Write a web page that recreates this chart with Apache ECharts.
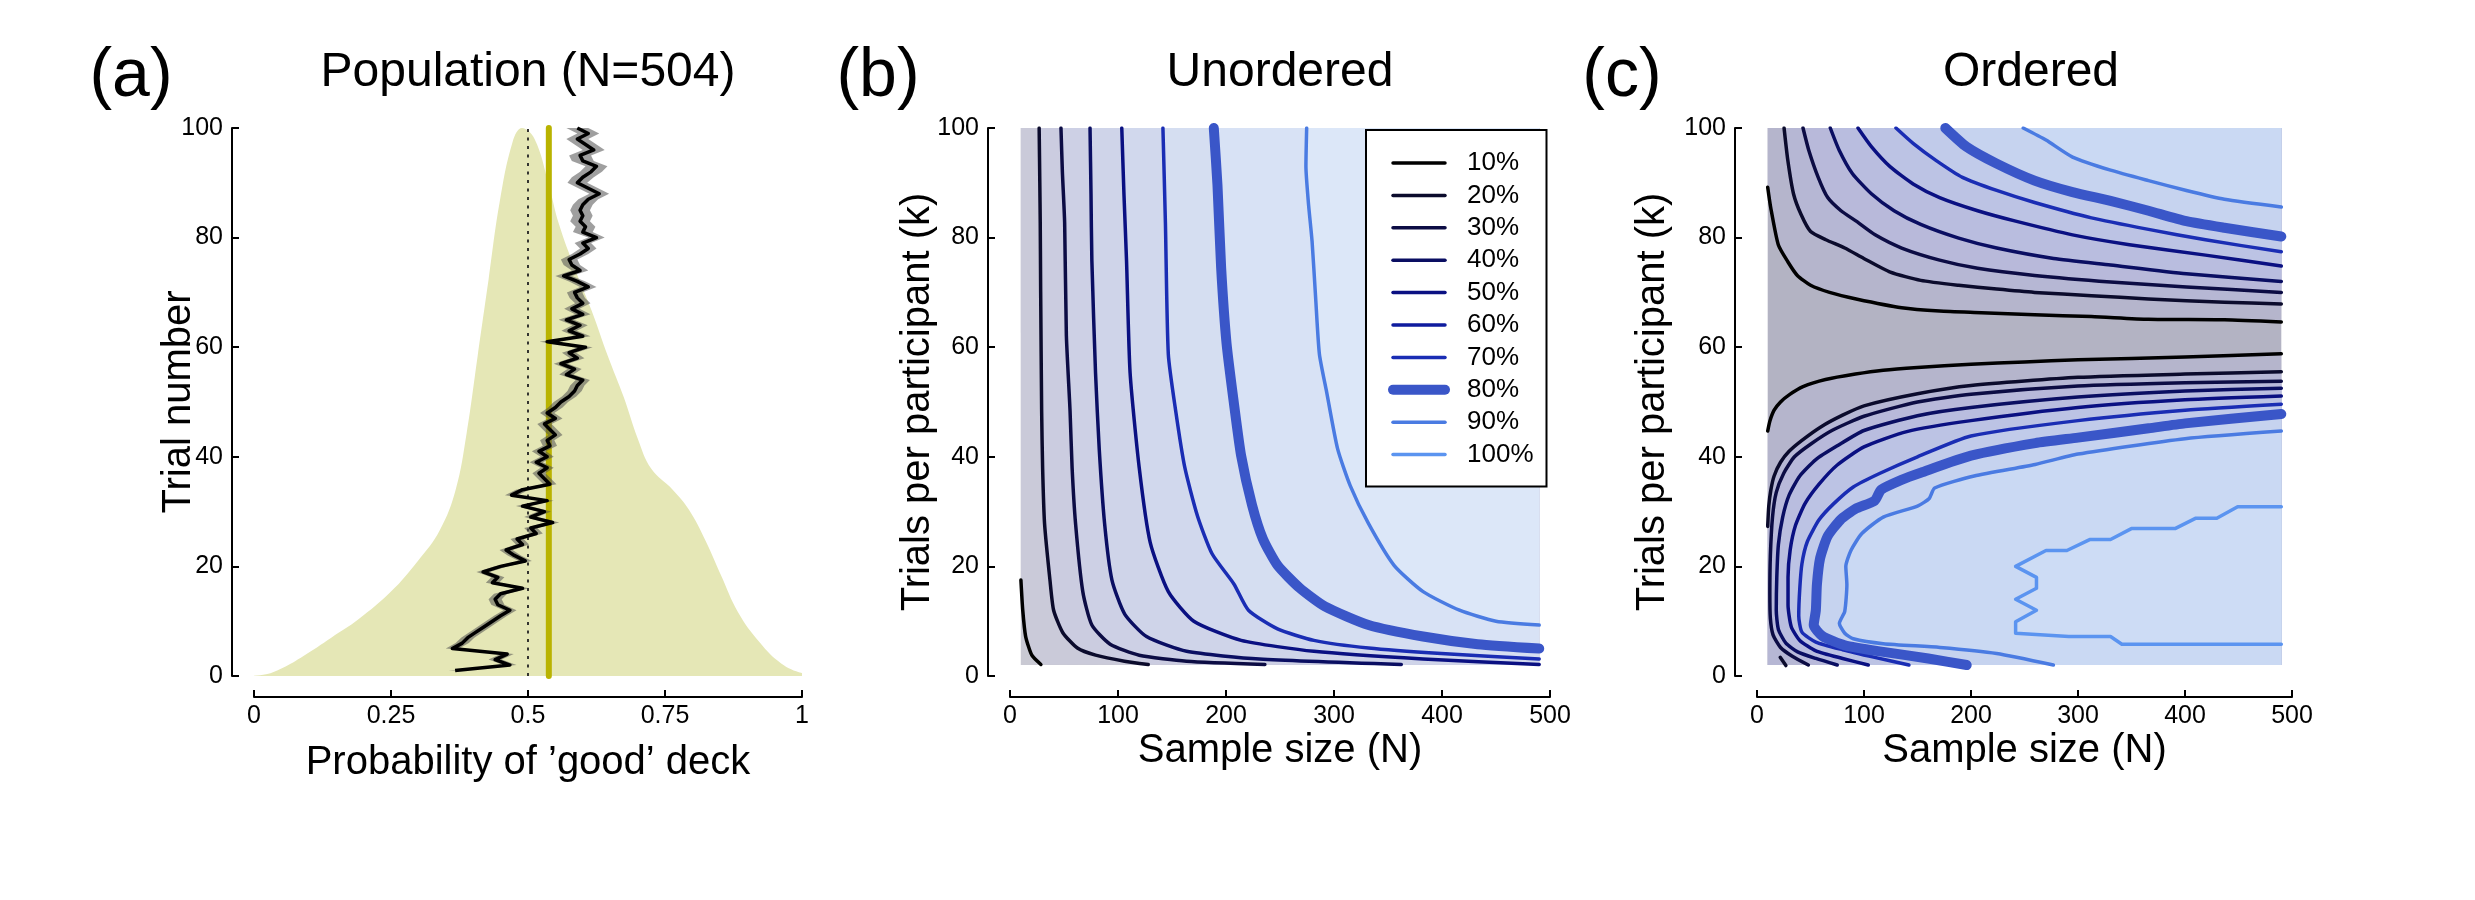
<!DOCTYPE html>
<html>
<head>
<meta charset="utf-8">
<script src="https://cdn.jsdelivr.net/npm/echarts@6/dist/echarts.min.js"></script>
<style>
  html, body { margin: 0; padding: 0; background: #fff; }
  #chart { width: 2475px; height: 900px; }
</style>
</head>
<body>
<div id="chart"></div>
<script>
// ---- panel (a): population ----
const densityP = [-0.013, 0.022, 0.051, 0.091, 0.141, 0.19, 0.25, 0.299, 0.339, 0.368, 0.388, 0.408, 0.428, 0.448, 0.472, 0.489, 0.512, 0.537, 0.556, 0.586, 0.616, 0.646, 0.675, 0.7, 0.725, 0.764, 0.794, 0.824, 0.853, 0.883, 0.923, 0.962, 1.002, 1.046];
const densityH = [0, 0.3, 1.4, 3.7, 7, 10.3, 15.4, 21, 26.6, 34, 44.3, 58.3, 72.3, 86.3, 97.5, 100, 98, 90, 82.6, 74.2, 66.7, 58.3, 50.8, 43.4, 37.8, 34, 30.3, 24.7, 18.2, 11.7, 6.1, 2.3, 0.5, 0];

// mean probability of choosing the good deck, trials 1..100
const trialMeanP = [
  0.367, 0.467, 0.44, 0.462, 0.362, 0.38, 0.39, 0.405, 0.42, 0.435,
  0.45, 0.467, 0.445, 0.44, 0.45, 0.49, 0.435, 0.445, 0.418, 0.45,
  0.495, 0.475, 0.46, 0.49, 0.48, 0.515, 0.505, 0.545, 0.505, 0.53,
  0.49, 0.535, 0.47, 0.49, 0.54, 0.53, 0.52, 0.535, 0.515, 0.535,
  0.52, 0.54, 0.535, 0.55, 0.54, 0.53, 0.55, 0.535, 0.55, 0.56,
  0.575, 0.585, 0.59, 0.6, 0.57, 0.585, 0.56, 0.59, 0.575, 0.605,
  0.535, 0.6, 0.575, 0.595, 0.57, 0.6, 0.58, 0.6, 0.59, 0.585,
  0.61, 0.59, 0.565, 0.595, 0.58, 0.575, 0.595, 0.61, 0.6, 0.625,
  0.6, 0.605, 0.595, 0.6, 0.595, 0.6, 0.61, 0.63, 0.61, 0.59,
  0.6, 0.615, 0.625, 0.6, 0.595, 0.62, 0.605, 0.59, 0.61, 0.59
];
// half width of the grey band, one value per block of 10 trials
const bandHalfWidth = [0.012, 0.012, 0.012, 0.012, 0.013, 0.013, 0.014, 0.015, 0.018, 0.02];
const chanceP = 0.5;
const populationMeanP = 0.538;

// ---- contour levels ----
const levels = ['10%', '20%', '30%', '40%', '50%', '60%', '70%', '80%', '90%', '100%'];
const nRange = [10, 490];
const kRange = [2, 100];

// ---- panel (b): unordered, [N, k] points along each contour ----
const unordered10 = [[10.1, 17.5], [11.8, 12], [14.5, 7.2], [20.2, 3.8], [28.6, 2.1]];
const unordered20 = [[27, 100], [27.6, 90], [28, 82.7], [28.4, 70], [29.3, 48.4], [30.2, 38], [32, 27.8], [37, 17.5], [40.4, 12], [48.9, 7.9], [62.4, 5.1], [79.2, 3.8], [106, 2.7], [128, 2.1]];
const unordered30 = [[47.2, 100], [48.5, 92], [50.6, 82.7], [52.2, 62.1], [55.6, 48.4], [57.5, 38], [60.7, 27.8], [67.4, 15.4], [75.8, 9.3], [92.7, 5.8], [119.6, 3.8], [163.5, 2.7], [236, 2.1]];
const unordered40 = [[74.1, 100], [75, 88], [75.8, 75.8], [79.2, 55.3], [82.6, 41.5], [87.6, 27.8], [94.4, 17.5], [106.2, 11.3], [126.4, 7.2], [163.5, 4.5], [230.9, 3.1], [362.3, 2.1]];
const unordered50 = [[103.5, 100], [105.5, 88], [107.9, 75.8], [111.2, 55.3], [119.6, 38.1], [129.8, 24.4], [146.6, 15.4], [170.2, 10], [214, 6.5], [281.4, 4.5], [382.5, 3.1], [490, 2.1]];
const unordered70 = [[141.6, 100], [143.9, 82.7], [146.6, 58.7], [153.4, 48.4], [161.8, 38.1], [173.6, 29.2], [187.1, 22.3], [207.3, 16.8], [220.8, 12], [247.7, 8.6], [281.4, 6.5], [332, 5.1], [399.4, 4.1], [490, 3.1]];
const unordered80 = [[188.7, 100], [192.1, 89.6], [195.5, 74.5], [200.5, 60.7], [207.3, 49.8], [214, 40.2], [224.1, 31.2], [234.2, 25], [247.7, 20.2], [268, 16.1], [291.5, 12.7], [332, 9.3], [382.5, 7.2], [433, 5.8], [490, 5]];
const unordered90 = [[274.7, 100], [274, 93], [276.4, 86.1], [279.7, 79.3], [283, 69], [286.5, 58.7], [293.2, 51.8], [303.3, 41.5], [315.1, 34.7], [332, 27.8], [355.6, 20.2], [382.5, 15.4], [416.2, 12], [450, 10], [490, 9.3]];

// ---- panel (c): ordered, upper and lower branches ----
const orderedUp10 = [[10, 89.2], [12.8, 85.5], [19.9, 78.7], [28.8, 75.6], [37.7, 73.1], [50.1, 71.3], [67.8, 70], [92.7, 68.8], [135.2, 67.2], [170.7, 66.6], [209.7, 66.3], [259.4, 65.9], [312.6, 65.6], [365.9, 65.1], [436.8, 65], [490, 64.6]];
const orderedUp20 = [[25.3, 100], [28.8, 94.1], [34.1, 88], [41.2, 84.2], [50.1, 81.1], [64.3, 79.6], [82, 78.1], [99.8, 76.2], [124.6, 73.7], [153, 72.2], [188.5, 71.3], [224, 70.6], [259.4, 70], [312.6, 69.4], [365.9, 68.8], [436.8, 68.2], [490, 67.9]];
const orderedUp30 = [[43, 100], [48.3, 96], [57.2, 91], [66.1, 87.3], [78.5, 84.9], [92.7, 83], [110.4, 80.5], [135.2, 78.1], [170.7, 75.9], [206.2, 74.4], [259.4, 73.1], [330.4, 71.9], [401.3, 71], [490, 70]];
const orderedUp40 = [[68.5, 100], [76.7, 96], [89.1, 91.7], [106.9, 88], [128.1, 84.9], [153, 82.4], [188.5, 79.9], [224, 78.1], [277.2, 76.2], [330.4, 75], [401.3, 73.4], [490, 72]];
const orderedUp50 = [[94.4, 100], [106.9, 96.6], [124.6, 92.9], [145.9, 89.8], [170.7, 87.3], [206.2, 84.9], [241.7, 83], [294.9, 80.5], [348.1, 78.7], [419.1, 76.8], [490, 74.8]];
const orderedUp70 = [[129.9, 100], [145.9, 97.2], [167.2, 94.1], [192, 91], [224, 88.6], [259.4, 86.4], [312.6, 83.6], [365.9, 81.5], [419.1, 79.6], [490, 77.4]];
const orderedUp80 = [[176, 100], [195.6, 96.6], [224, 93.5], [259.4, 90.4], [294.9, 88.3], [330.4, 86.7], [365.9, 84.9], [401.3, 83], [436.8, 81.8], [490, 80.2]];
const orderedUp90 = [[248.8, 100], [270.1, 97.8], [294.9, 94.7], [330.4, 92.3], [365.9, 90.4], [401.3, 88.6], [436.8, 87], [490, 85.6]];

const orderedLow10 = [[10, 44.7], [12, 46.5], [16, 48.5], [22, 50], [30, 51.3], [43, 52.8], [64, 54.1], [92, 55.1], [118, 55.8], [150, 56.3], [200, 56.9], [250, 57.3], [300, 57.7], [400, 58.2], [490, 58.8]];
const orderedLow20 = [[10, 27.3], [11, 31], [13, 34], [16, 36.5], [22, 39], [30, 41], [42, 43], [60, 45.5], [80, 47.6], [100, 49.3], [150, 51.5], [200, 53], [300, 54.5], [400, 55.1], [490, 55.5]];
const orderedLow20Piece = [[21.7, 3.4], [27, 1.9]];
const orderedLow30 = [[48, 2], [33, 3.6], [22, 5.2], [15, 7.5], [12.5, 10.5], [12, 15], [12.5, 22], [14.5, 29], [18, 33.5], [25, 37], [35, 40], [50, 42.3], [70, 44.8], [100, 47.4], [150, 50], [200, 51.4], [300, 52.9], [400, 53.5], [490, 53.8]];
const orderedLow40 = [[75, 2], [55, 3.2], [38, 4.4], [27, 6], [20, 8.5], [18, 12], [18.5, 18], [20, 24], [24, 29], [30, 33], [40, 36.5], [55, 39.5], [75, 42], [100, 44.8], [150, 47.5], [200, 49], [300, 50.9], [400, 52], [490, 52.5]];
const orderedLow50 = [[104, 2], [80, 3.2], [55, 4.6], [40, 6.5], [32, 9], [29, 13], [29, 18], [31, 23], [36, 27.5], [45, 31.5], [58, 35], [75, 38.5], [100, 41.8], [140, 44.6], [200, 46.6], [300, 49], [400, 50.4], [490, 51.1]];
const orderedLow70 = [[142, 2], [110, 3.4], [80, 4.8], [55, 6.2], [42, 8], [39, 11], [40, 16], [42, 20.5], [47, 24.5], [58, 28.5], [72, 31.5], [90, 34.5], [115, 37], [150, 40], [200, 43.8], [300, 46.6], [400, 48.5], [490, 49.6]];
const orderedLow80 = [[196, 2], [160, 3.2], [118, 4.4], [82, 5.6], [61, 7.3], [53, 9.3], [55, 12], [56, 16.7], [59, 21.5], [66, 25.5], [78, 28.5], [92, 30.5], [110, 32], [116, 34], [135, 35.8], [153, 37.1], [200, 40.2], [260, 42.5], [300, 43.5], [366, 45.2], [400, 46.1], [490, 47.8]];
const orderedLow90 = [[277, 2], [224, 4.1], [171, 5.2], [118, 5.9], [90, 6.8], [82, 7.8], [77, 9.6], [82, 11.8], [84, 16.7], [83, 20], [88, 23], [98, 26], [118, 29], [150, 31], [161, 32.4], [166, 34.3], [203, 36.5], [260, 38.6], [300, 40.5], [400, 43.3], [490, 44.7]];
const ordered100 = [[490, 30.9], [449.2, 30.9], [429.7, 28.8], [410.2, 28.8], [390.7, 26.9], [349.9, 26.9], [330.4, 24.9], [310.9, 24.9], [289.6, 22.9], [270.1, 22.9], [241.7, 20], [261.2, 18], [261.2, 16], [241.7, 14], [261.2, 12], [241.7, 9.9], [241.7, 7.8], [291.4, 7.2], [330.4, 7.2], [341, 5.8], [490, 5.8]];

// ---- styles ----
const FONT = 'Liberation Sans, Arial, sans-serif';
const lineColors = ['#000000', '#0b0b2c', '#0c0c44', '#0a0e62', '#0a1082', '#0f1c9e', '#1a2db4', '#3a56c8', '#4a7be2', '#5b94f0'];
const fillB = { base: '#c9c9d3', '10%': '#cacad9', '20%': '#cbcce0', '30%': '#cdd0e5', '40%': '#cfd4e9', '50%': '#d1d8ed', '70%': '#d5def1', '80%': '#d8e2f5', '90%': '#dce7f8' };
const fillC = { base: '#b3b3c3', '10%': '#b5b5cc', '20%': '#b6b7d4', '30%': '#b8b9da', '40%': '#b9bddf', '50%': '#bcc3e4', '70%': '#c1cbea', '80%': '#c6d3ef', '90%': '#cad9f3', '100%': '#cddcf5' };

const colorOf = lvl => lineColors[levels.indexOf(lvl)];
const widthOf = lvl => (lvl === '80%' ? 10 : 3.5);

const nMin = nRange[0], nMax = nRange[1], kMin = kRange[0], kMax = kRange[1];
const rect = [[nMin, kMin], [nMax, kMin], [nMax, kMax], [nMin, kMax]];

const unorderedLines = [
  ['10%', unordered10], ['20%', unordered20], ['30%', unordered30], ['40%', unordered40],
  ['50%', unordered50], ['70%', unordered70], ['80%', unordered80], ['90%', unordered90]
];
const orderedUpper = [
  ['10%', orderedUp10], ['20%', orderedUp20], ['30%', orderedUp30], ['40%', orderedUp40],
  ['50%', orderedUp50], ['70%', orderedUp70], ['80%', orderedUp80], ['90%', orderedUp90]
];
const orderedLower = [
  ['10%', orderedLow10], ['20%', orderedLow20], ['30%', orderedLow30], ['40%', orderedLow40],
  ['50%', orderedLow50], ['70%', orderedLow70], ['80%', orderedLow80], ['90%', orderedLow90]
];

// filled regions (power >= level) drawn from low to high level
function byLevel(a, b) { return levels.indexOf(a.lvl) - levels.indexOf(b.lvl); }

const fillsB = [{ lvl: 'base', pts: rect, color: fillB.base }].concat(
  unorderedLines.map(([lvl, pts]) => ({ lvl, pts: pts.concat([[nMax, kMin], [nMax, kMax], [nMin, kMax]]), color: fillB[lvl] })).sort(byLevel)
);
const fillsC = [{ lvl: 'base', pts: rect, color: fillC.base }].concat(
  orderedUpper.map(([lvl, pts]) => ({ lvl, pts: pts.concat([[nMax, kMax], [nMin, kMax]]), color: fillC[lvl] }))
    .concat(orderedLower.map(([lvl, pts]) => ({ lvl, pts: pts.concat([[nMax, kMin], [nMin, kMin]]), color: fillC[lvl] })))
    .concat([{ lvl: '100%', pts: ordered100, color: fillC['100%'] }])
    .sort(byLevel)
);

function fillSeries(fills, idx) {
  return {
    type: 'custom', xAxisIndex: idx, yAxisIndex: idx, silent: true, z: 1,
    data: fills.map((f, i) => [i]),
    renderItem: (params, api) => {
      const f = fills[params.dataIndex];
      return { type: 'polygon', shape: { points: f.pts.map(p => api.coord(p)) }, style: { fill: f.color } };
    }
  };
}

function contourSeries(lvl, pts, idx, smooth) {
  return {
    type: 'line', name: lvl, xAxisIndex: idx, yAxisIndex: idx, data: pts,
    symbol: 'none', smooth: smooth, silent: true, z: 3,
    lineStyle: { color: colorOf(lvl), width: widthOf(lvl), cap: 'round', join: 'round' },
    itemStyle: { color: colorOf(lvl) }
  };
}

// band around trial means
const bandLower = trialMeanP.map((p, i) => [p - bandHalfWidth[Math.floor(i / 10)], i + 1]);
const bandUpper = trialMeanP.map((p, i) => [p + bandHalfWidth[Math.floor(i / 10)], i + 1]);
const bandPts = bandLower.concat(bandUpper.slice().reverse());

function axisX(gridIndex, max, interval, name, nameGap) {
  return {
    type: 'value', gridIndex, min: 0, max, interval, position: 'bottom', offset: 21,
    axisLine: { show: true, onZero: false, lineStyle: { color: '#000', width: 2 } },
    axisTick: { show: true, inside: true, length: 7, lineStyle: { color: '#000', width: 2 } },
    axisLabel: { color: '#000', fontSize: 25, fontFamily: FONT, margin: 7 },
    splitLine: { show: false },
    name, nameLocation: 'middle', nameGap, nameMoveOverlap: false,
    nameTextStyle: { color: '#000', fontSize: 40, fontFamily: FONT }
  };
}
function axisY(gridIndex, name, nameGap) {
  return {
    type: 'value', gridIndex, min: 0, max: 100, interval: 20, position: 'left', offset: 22,
    axisLine: { show: true, onZero: false, lineStyle: { color: '#000', width: 2 } },
    axisTick: { show: true, inside: true, length: 7, lineStyle: { color: '#000', width: 2 } },
    axisLabel: { color: '#000', fontSize: 25, fontFamily: FONT, margin: 9 },
    splitLine: { show: false },
    name, nameLocation: 'middle', nameGap, nameMoveOverlap: false,
    nameTextStyle: { color: '#000', fontSize: 40, fontFamily: FONT }
  };
}

const series = [
  // (a)
  {
    type: 'line', xAxisIndex: 0, yAxisIndex: 0, data: densityP.map((p, i) => [p, densityH[i]]),
    symbol: 'none', smooth: 0.4, clip: false, silent: true, z: 1,
    lineStyle: { width: 0 }, areaStyle: { color: '#e5e7b6', opacity: 1 }
  },
  {
    type: 'line', xAxisIndex: 0, yAxisIndex: 0, data: [[chanceP, 0], [chanceP, 100]],
    symbol: 'none', silent: true, z: 2,
    lineStyle: { color: '#222', width: 1.8, type: [3, 5.5] }
  },
  {
    type: 'line', xAxisIndex: 0, yAxisIndex: 0, data: [[populationMeanP, 0], [populationMeanP, 100]],
    symbol: 'none', silent: true, z: 2,
    lineStyle: { color: '#b9b300', width: 6, cap: 'round' }
  },
  {
    type: 'custom', xAxisIndex: 0, yAxisIndex: 0, silent: true, z: 3, data: [[0]],
    renderItem: (params, api) => ({
      type: 'polygon', shape: { points: bandPts.map(p => api.coord(p)) },
      style: { fill: 'rgba(80,80,80,0.55)' }
    })
  },
  {
    type: 'line', xAxisIndex: 0, yAxisIndex: 0, data: trialMeanP.map((p, i) => [p, i + 1]),
    symbol: 'none', silent: true, z: 4,
    lineStyle: { color: '#000', width: 3.5, join: 'round' }
  },
  // (b)
  fillSeries(fillsB, 1),
  ...unorderedLines.map(([lvl, pts]) => contourSeries(lvl, pts, 1, 0.2)),
  { type: 'line', name: '60%', xAxisIndex: 1, yAxisIndex: 1, data: [], symbol: 'none',
    lineStyle: { color: colorOf('60%'), width: widthOf('60%') }, itemStyle: { color: colorOf('60%') } },
  // (c)
  fillSeries(fillsC, 2),
  ...orderedUpper.map(([lvl, pts]) => contourSeries(lvl, pts, 2, 0.2)),
  ...orderedLower.map(([lvl, pts]) => contourSeries(lvl, pts, 2, 0.2)),
  contourSeries('20%', orderedLow20Piece, 2, 0),
  contourSeries('100%', ordered100, 2, 0)
];

const titles = [
  ['(a)', 131, 77, 68], ['Population (N=504)', 528, 73, 48],
  ['(b)', 878, 77, 68], ['Unordered', 1280, 73, 48],
  ['(c)', 1622, 77, 68], ['Ordered', 2031, 73, 48]
];

const chart = echarts.init(document.getElementById('chart'));
chart.setOption({
  animation: false,
  backgroundColor: '#fff',
  textStyle: { fontFamily: FONT },
  grid: [
    { left: 254, top: 128, width: 548, height: 548 },
    { left: 1010, top: 128, width: 540, height: 548 },
    { left: 1757, top: 128, width: 535, height: 548 }
  ],
  xAxis: [
    axisX(0, 1, 0.25, 'Probability of \u2019good\u2019 deck', 46),
    axisX(1, 500, 100, 'Sample size (N)', 34),
    axisX(2, 500, 100, 'Sample size (N)', 34)
  ],
  yAxis: [
    axisY(0, 'Trial number', 33),
    axisY(1, 'Trials per participant (k)', 50),
    axisY(2, 'Trials per participant (k)', 62)
  ],
  legend: {
    data: levels,
    orient: 'vertical', left: 1366, top: 130,
    padding: [20, 13, 19, 22],
    itemWidth: 52, itemHeight: 14, itemGap: 6.4,
    backgroundColor: '#fff', borderColor: '#000', borderWidth: 2, borderRadius: 0,
    itemStyle: { opacity: 0 },
    lineStyle: { width: 'inherit', cap: 'round' },
    textStyle: { color: '#000', fontSize: 26, lineHeight: 26, fontFamily: FONT, padding: [0, 0, 0, 17] },
    selectedMode: false
  },
  graphic: titles.map(([text, x, y, size]) => ({
    type: 'text', x, y, silent: true,
    style: { text, fill: '#000', font: size + 'px ' + FONT, textAlign: 'center', textVerticalAlign: 'middle' }
  })),
  series
});
</script>
</body>
</html>
